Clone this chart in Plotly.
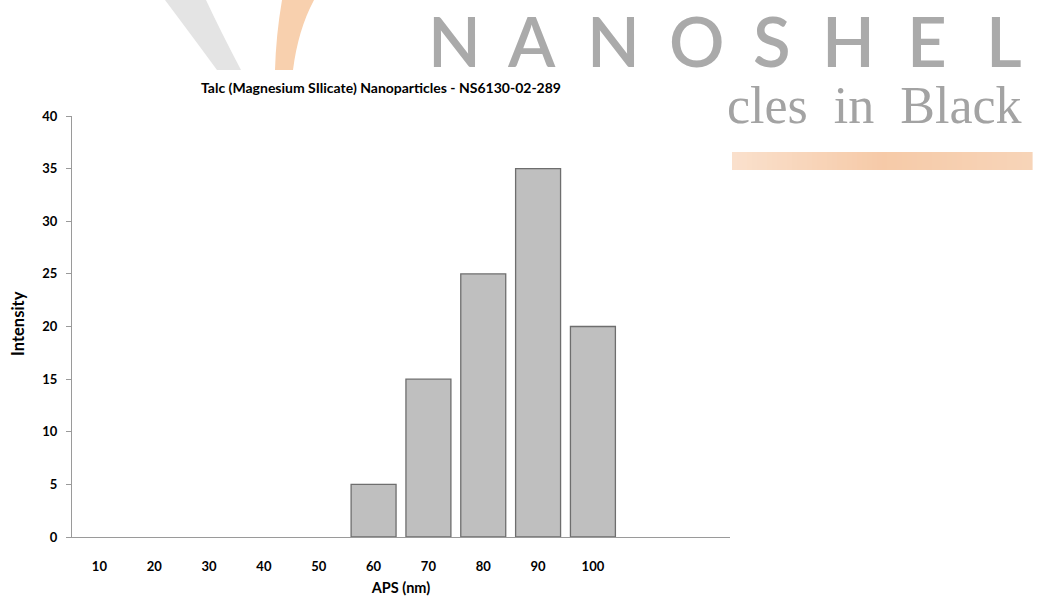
import plotly.graph_objects as go

# Particle size distribution
aps_nm = [10, 20, 30, 40, 50, 60, 70, 80, 90, 100]
intensity = [0, 0, 0, 0, 0, 5, 15, 25, 35, 20]
x_tick_labels = ["10", "20", "30", "40", "50", "60", "70", "80", "90", "100"]

chart_title = "Talc (Magnesium SIlicate) Nanoparticles - NS6130-02-289"
x_title = "APS (nm)"
y_title = "Intensity"

# Brand mark letters and their centre positions (px)
brand_letters = ["N", "A", "N", "O", "S", "H", "E", "L"]
brand_letter_px = [454, 531, 613, 697, 772, 848, 927, 1004]
tagline = "cles\u00a0 in\u00a0 Black"

W, H = 1037, 605
ML, MR, MT, MB = 72, 307, 116, 68
PW, PH = W - ML - MR, H - MT - MB

def px_x(px):
    return (px - ML) / PW

def px_y(py):
    return (H - MB - py) / PH

FONT = "Lato"

# zero-height bars carry no outline
outline_w = [1.3 if v > 0 else 0 for v in intensity]

fig = go.Figure()
fig.add_trace(go.Bar(
    x=aps_nm, y=intensity, width=8.2,
    marker=dict(color="#bfbfbf", line=dict(color="#6e6e6e", width=outline_w)),
    hoverinfo="x+y",
))

shapes = []
annotations = []

# Logo: grey swoosh
shapes.append(dict(
    type="path", xref="paper", yref="paper", layer="below",
    path=(f"M {px_x(165)},{px_y(0)} Q {px_x(195)},{px_y(40)} {px_x(217)},{px_y(70)} "
          f"L {px_x(241)},{px_y(70)} Q {px_x(220)},{px_y(30)} {px_x(206)},{px_y(0)} Z"),
    fillcolor="#e4e4e4", line=dict(width=0),
))
# Logo: orange swoosh
shapes.append(dict(
    type="path", xref="paper", yref="paper", layer="below",
    path=(f"M {px_x(282)},{px_y(0)} Q {px_x(276)},{px_y(35)} {px_x(275)},{px_y(70)} "
          f"L {px_x(293)},{px_y(70)} Q {px_x(298)},{px_y(30)} {px_x(314)},{px_y(0)} Z"),
    fillcolor="#f8d0ae", line=dict(width=0),
))

# Logo: peach gradient bar built from thin strips
bar_left, bar_right, bar_top, bar_bot = 732, 1032, 152, 170
n_strips = 60
def lerp(c1, c2, t):
    return tuple(round(a + (b - a) * t) for a, b in zip(c1, c2))
c_left, c_mid, c_right = (250, 224, 204), (246, 202, 168), (247, 212, 184)
step = (bar_right - bar_left) / n_strips
for i in range(n_strips):
    t = i / (n_strips - 1)
    c = lerp(c_left, c_mid, t * 2) if t < 0.5 else lerp(c_mid, c_right, (t - 0.5) * 2)
    x0 = bar_left + i * step
    shapes.append(dict(
        type="rect", xref="paper", yref="paper", layer="below",
        x0=px_x(x0), x1=px_x(x0 + step + 0.6), y0=px_y(bar_bot), y1=px_y(bar_top),
        fillcolor="rgb(%d,%d,%d)" % c, line=dict(width=0),
    ))

# Logo: brand letters
for letter, cx in zip(brand_letters, brand_letter_px):
    annotations.append(dict(
        text=letter, xref="paper", yref="paper", x=px_x(cx), y=px_y(83),
        xanchor="center", yanchor="bottom", showarrow=False, borderpad=0,
        font=dict(family=FONT, size=69, color="#aaaaaa", weight=600),
    ))

# Logo: tagline
annotations.append(dict(
    text=tagline, xref="paper", yref="paper", x=px_x(1024), y=px_y(106),
    xanchor="right", yanchor="middle", showarrow=False,
    font=dict(family="Liberation Serif", size=52, color="#a3a3a3"),
))

# Y axis title
annotations.append(dict(
    text=f"<b>{y_title}</b>", xref="paper", yref="paper", x=px_x(18), y=px_y(324),
    xanchor="center", yanchor="middle", textangle=-90, showarrow=False,
    font=dict(family=FONT, size=16.5, color="#000000"),
))

fig.update_layout(
    width=W, height=H,
    margin=dict(l=ML, r=MR, t=MT, b=MB),
    paper_bgcolor="white", plot_bgcolor="rgba(0,0,0,0)",
    showlegend=False,
    title=dict(
        text=f"<b>{chart_title}</b>", x=381 / W, xanchor="center",
        y=1 - 88 / H, yanchor="middle",
        font=dict(family=FONT, size=14, color="#000000"),
    ),
    shapes=shapes,
    annotations=annotations,
)

fig.update_xaxes(
    range=[5, 125], tickmode="array", tickvals=aps_nm, ticktext=x_tick_labels,
    showline=True, linecolor="#9a9a9a", linewidth=1.3,
    showgrid=False, zeroline=False, ticks="", ticklabelstandoff=17,
    tickfont=dict(family=FONT, size=13, color="#000000", weight="bold"),
    title=dict(text=f"<b>{x_title}</b>", standoff=10,
               font=dict(family=FONT, size=14.5, color="#000000")),
)
fig.update_yaxes(
    range=[0, 40], dtick=5, tick0=0,
    showline=True, linecolor="#9a9a9a", linewidth=1.3,
    showgrid=False, zeroline=False,
    ticks="outside", ticklen=5, tickcolor="#9a9a9a", tickwidth=1,
    ticklabelstandoff=6,
    tickfont=dict(family=FONT, size=13, color="#000000", weight="bold"),
)

fig.write_html("out.html")
